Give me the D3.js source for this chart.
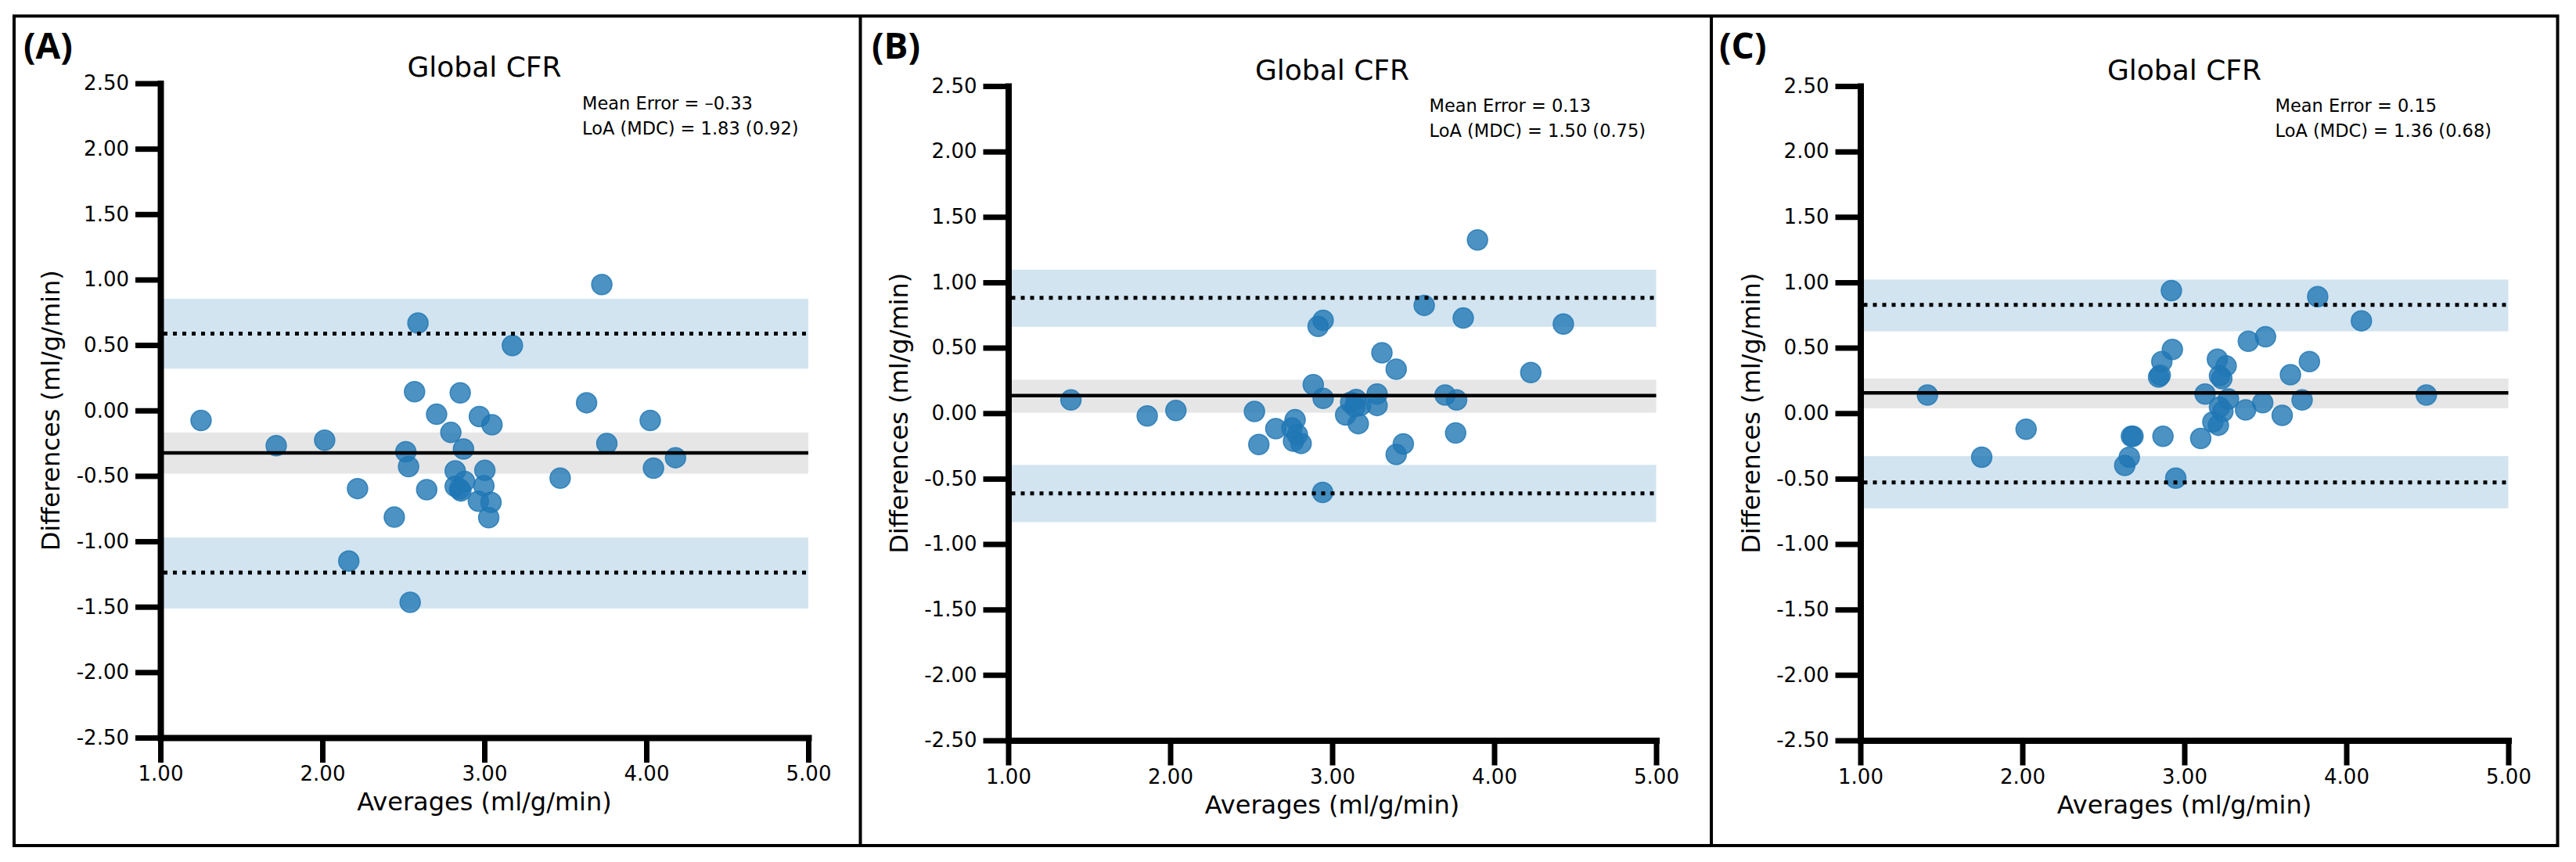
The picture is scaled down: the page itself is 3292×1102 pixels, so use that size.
<!DOCTYPE html>
<html>
<head>
<meta charset="utf-8">
<script src="https://cdn.jsdelivr.net/npm/d3@7"></script>
<style>
  body { margin: 0; background: #fff; }
  svg { display: block; }
</style>
</head>
<body>
<svg id="chart" width="3292" height="1102"></svg>
<script>
// values
const panelLabels = ["(A)", "(B)", "(C)"];
const titles = ["Global CFR", "Global CFR", "Global CFR"];
const meanErrorText = ["\u20130.33", "0.13", "0.15"];
const loaText = ["1.83 (0.92)", "1.50 (0.75)", "1.36 (0.68)"];

const xTicks = [1, 2, 3, 4, 5];
const yTicks = [-2.5, -2, -1.5, -1, -0.5, 0, 0.5, 1, 1.5, 2, 2.5];

const meanBias = [-0.324, 0.134, 0.155];
const meanLo = [-0.483, 0.004, 0.038];
const meanHi = [-0.168, 0.256, 0.265];
const upperLoA = [0.588, 0.882, 0.828];
const upperLo = [0.319, 0.660, 0.626];
const upperHi = [0.853, 1.097, 1.021];
const lowerLoA = [-1.239, -0.613, -0.529];
const lowerLo = [-1.513, -0.832, -0.727];
const lowerHi = [-0.971, -0.395, -0.328];

const avgA = [1.251, 1.715, 2.014, 2.217, 2.163, 2.444, 2.515, 2.532, 2.542, 2.569, 2.590, 2.644,
  2.705, 2.793, 2.820, 2.820, 2.847, 2.851, 2.871, 2.878, 2.969, 2.963, 3.003, 2.997, 3.047, 3.041,
  3.027, 3.173, 3.468, 3.631, 3.725, 3.756, 4.024, 4.044, 4.180, 2.855];
const diffA = [-0.076, -0.269, -0.227, -0.597, -1.151, -0.815, -0.315, -0.429, -1.466, 0.143, 0.668, -0.605,
  -0.029, -0.168, -0.462, -0.580, -0.601, 0.134, -0.294, -0.542, -0.046, -0.693, -0.458, -0.576, -0.109, -0.702,
  -0.819, 0.496, -0.517, 0.059, 0.962, -0.252, -0.076, -0.441, -0.361, -0.615];

const avgB = [1.387, 1.858, 2.035, 2.520, 2.547, 2.652, 2.771, 2.751, 2.761, 2.808, 2.785, 2.883,
  2.913, 2.944, 2.944, 2.941, 3.083, 3.114, 3.148, 3.161, 3.175, 3.277, 3.277, 3.307, 3.395, 3.395,
  3.439, 3.568, 3.697, 3.768, 3.762, 3.809, 3.897, 4.226, 4.427, 3.140];
const diffB = [0.101, -0.021, 0.021, 0.013, -0.239, -0.118, -0.050, -0.113, -0.214, -0.231, -0.164, 0.218,
  0.664, 0.710, 0.113, -0.605, -0.013, 0.084, 0.105, -0.080, 0.059, 0.147, 0.059, 0.462, 0.336, -0.315,
  -0.235, 0.824, 0.139, 0.101, -0.151, 0.727, 1.324, 0.311, 0.681, 0.050];

const avgC = [1.414, 1.749, 2.023, 2.632, 2.660, 2.673, 2.683, 2.841, 2.851, 2.861, 2.868, 2.920,
  2.926, 2.947, 3.101, 3.128, 3.176, 3.204, 3.217, 3.231, 3.258, 3.217, 3.210, 3.238, 3.272, 3.378,
  3.395, 3.484, 3.501, 3.604, 3.655, 3.727, 3.772, 3.823, 4.093, 4.494];
const diffC = [0.139, -0.336, -0.122, -0.399, -0.336, -0.176, -0.176, 0.277, 0.290, 0.395, -0.176, 0.937,
  0.487, -0.496, -0.193, 0.147, -0.067, 0.412, 0.286, 0.265, 0.361, 0.046, -0.092, 0.013, 0.109, 0.025,
  0.550, 0.080, 0.584, -0.017, 0.294, 0.101, 0.395, 0.891, 0.706, 0.139];

const averages = [avgA, avgB, avgC];
const differences = [diffA, diffB, diffC];

// layout (pixels)
const plotW = 828, plotH = 836.5;
const layout = [
  { left: 205, top: 106.5, label: 30, note: 539 },
  { left: 1288.5, top: 110, label: 1114, note: 538 },
  { left: 2377.5, top: 110, label: 2197, note: 530 }
];
const frameDividers = [1099.5, 2187];

const font = "'DejaVu Sans', sans-serif";
const blue = "#1f77b4";
const fmt = v => d3.format(".2f")(v).replace("\u2212", "-");

const svg = d3.select("#chart");

// outer frame
svg.append("rect")
  .attr("x", 18).attr("y", 20.5)
  .attr("width", 3250.5).attr("height", 1060.5)
  .attr("fill", "none").attr("stroke", "#000").attr("stroke-width", 4);
svg.selectAll("line.divider")
  .data(frameDividers)
  .join("line")
  .attr("class", "divider")
  .attr("x1", d => d).attr("x2", d => d)
  .attr("y1", 20.5).attr("y2", 1081)
  .attr("stroke", "#000").attr("stroke-width", 4);

function drawPanel(i) {
  const L = layout[i];
  const x = d3.scaleLinear().domain([1, 5]).range([L.left, L.left + plotW]);
  const y = d3.scaleLinear().domain([-2.5, 2.5]).range([L.top + plotH, L.top]);
  const g = svg.append("g");

  // confidence bands
  const bands = [
    [meanLo[i], meanHi[i], "#e6e6e6"],
    [upperLo[i], upperHi[i], "#d2e4f0"],
    [lowerLo[i], lowerHi[i], "#d2e4f0"]
  ];
  g.selectAll("rect.band")
    .data(bands)
    .join("rect")
    .attr("class", "band")
    .attr("x", x(1))
    .attr("width", x(5) - x(1))
    .attr("y", d => y(d[1]))
    .attr("height", d => y(d[0]) - y(d[1]))
    .attr("fill", d => d[2]);

  // points
  const pts = d3.zip(averages[i], differences[i]);
  g.selectAll("circle")
    .data(pts)
    .join("circle")
    .attr("cx", d => x(d[0]))
    .attr("cy", d => y(d[1]))
    .attr("r", 13)
    .attr("fill", blue)
    .attr("fill-opacity", 0.8)
    .attr("stroke", blue)
    .attr("stroke-opacity", 0.8)
    .attr("stroke-width", 1.5);

  // mean and limits of agreement
  g.append("line")
    .attr("x1", x(1)).attr("x2", x(5))
    .attr("y1", y(meanBias[i])).attr("y2", y(meanBias[i]))
    .attr("stroke", "#000").attr("stroke-width", 4.5);
  g.selectAll("line.loa")
    .data([upperLoA[i], lowerLoA[i]])
    .join("line")
    .attr("class", "loa")
    .attr("x1", x(1) + 4).attr("x2", x(5))
    .attr("y1", d => y(d)).attr("y2", d => y(d))
    .attr("stroke", "#000").attr("stroke-width", 5)
    .attr("stroke-dasharray", "5,7");

  // axes
  const yAxis = g.append("g")
    .attr("transform", `translate(${L.left},0)`)
    .call(d3.axisLeft(y).tickValues(yTicks).tickSize(32).tickSizeOuter(0).tickPadding(8).tickFormat(fmt));
  const xAxis = g.append("g")
    .attr("transform", `translate(0,${L.top + plotH})`)
    .call(d3.axisBottom(x).tickValues(xTicks).tickSize(32).tickSizeOuter(0).tickPadding(5).tickFormat(fmt));
  [yAxis, xAxis].forEach(ax => {
    ax.select(".domain").attr("stroke-width", 8).attr("stroke-linecap", "square").attr("stroke", "#000");
    ax.selectAll(".tick line").attr("stroke-width", 7).attr("stroke", "#000");
    ax.selectAll(".tick text")
      .attr("fill", "#000")
      .style("font-family", font)
      .style("font-size", "26px");
  });

  const cx = L.left + plotW / 2;
  // title
  g.append("text")
    .attr("x", cx).attr("y", L.top - 8.5)
    .attr("text-anchor", "middle")
    .style("font-family", font).style("font-size", "36px")
    .text(titles[i]);

  // axis labels
  g.append("text")
    .attr("x", cx).attr("y", L.top + plotH + 93)
    .attr("text-anchor", "middle")
    .style("font-family", font).style("font-size", "32px")
    .text("Averages (ml/g/min)");
  g.append("text")
    .attr("transform", `translate(${L.left - 129},${L.top + plotH / 2}) rotate(-90)`)
    .attr("text-anchor", "middle")
    .style("font-family", font).style("font-size", "32px")
    .text("Differences (ml/g/min)");

  // stats note
  const note = g.append("text")
    .attr("x", L.left + L.note)
    .attr("y", L.top + 33)
    .style("font-family", font).style("font-size", "22.5px");
  note.append("tspan").attr("x", L.left + L.note).text(`Mean Error = ${meanErrorText[i]}`);
  note.append("tspan").attr("x", L.left + L.note).attr("dy", 32).text(`LoA (MDC) = ${loaText[i]}`);

  // panel label
  svg.append("text")
    .attr("x", L.label).attr("y", 75)
    .style("font-family", "'Open Sans', sans-serif")
    .style("font-weight", 700)
    .style("font-size", "46px")
    .text(panelLabels[i]);
}

[0, 1, 2].forEach(drawPanel);
</script>
</body>
</html>
